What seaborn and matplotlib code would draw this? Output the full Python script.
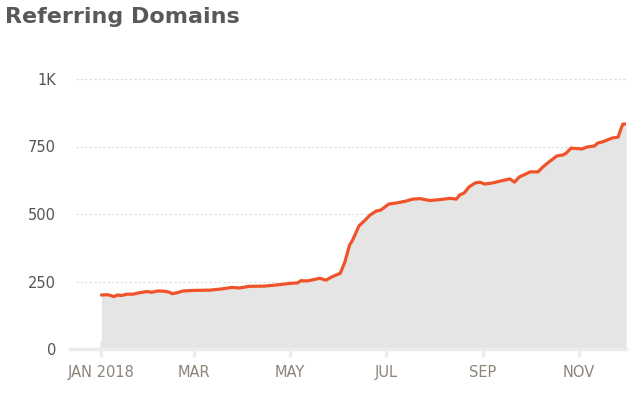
import numpy as np
import pandas as pd
import matplotlib
matplotlib.use("Agg")
import matplotlib.pyplot as plt
import seaborn as sns

# --- Data ---
DATES = [
    "2018-01-01", "2018-01-05", "2018-01-07", "2018-01-09", "2018-01-11", "2018-01-14",
    "2018-01-17", "2018-01-21", "2018-01-25", "2018-01-30", "2018-02-02", "2018-02-06",
    "2018-02-10", "2018-02-13", "2018-02-15", "2018-02-18", "2018-02-22", "2018-03-01",
    "2018-03-11", "2018-03-18", "2018-03-25", "2018-03-30", "2018-04-05", "2018-04-15",
    "2018-04-24", "2018-05-01", "2018-05-06", "2018-05-08", "2018-05-12", "2018-05-17",
    "2018-05-20", "2018-05-24", "2018-05-28", "2018-06-02", "2018-06-05", "2018-06-08",
    "2018-06-10", "2018-06-12", "2018-06-14", "2018-06-18", "2018-06-21", "2018-06-25",
    "2018-06-28", "2018-07-03", "2018-07-08", "2018-07-14", "2018-07-18", "2018-07-23",
    "2018-07-29", "2018-08-04", "2018-08-11", "2018-08-15", "2018-08-17", "2018-08-20",
    "2018-08-23", "2018-08-27", "2018-08-30", "2018-09-02", "2018-09-07", "2018-09-12",
    "2018-09-18", "2018-09-21", "2018-09-24", "2018-10-01", "2018-10-06", "2018-10-09",
    "2018-10-13", "2018-10-18", "2018-10-22", "2018-10-24", "2018-10-27", "2018-11-03",
    "2018-11-06", "2018-11-11", "2018-11-13", "2018-11-16", "2018-11-19", "2018-11-22",
    "2018-11-26", "2018-11-28", "2018-11-29", "2018-12-01",
]
DOMAINS = [
    200, 201, 198, 194, 200, 198,
    203, 203, 208, 213, 210, 215,
    214, 211, 205, 208, 215, 217,
    218, 222, 228, 226, 232, 233,
    238, 243, 245, 253, 252, 258,
    262, 255, 268, 280, 322, 385,
    404, 430, 456, 478, 496, 511,
    515, 537, 541, 548, 555, 557,
    550, 553, 558, 555, 570, 578,
    600, 615, 618, 611, 615, 622,
    630, 618, 637, 656, 656, 674,
    693, 715, 719, 726, 744, 741,
    748, 752, 763, 767, 774, 781,
    785, 819, 833, 833,
]
TICK_DATES = ["2018-01-01", "2018-03-01", "2018-05-01", "2018-07-01", "2018-09-01", "2018-11-01"]
TICK_LABELS = ["JAN 2018", "MAR", "MAY", "JUL", "SEP", "NOV"]
Y_TICKS = [0, 250, 500, 750, 1000]
Y_LABELS = ["0", "250", "500", "750", "1K"]

df = pd.DataFrame({"date": pd.to_datetime(DATES), "domains": DOMAINS})

sns.set_style("white")
plt.rcParams["font.family"] = ["DejaVu Sans"]

fig = plt.figure(figsize=(6.3, 4.2), dpi=100)
ax = fig.add_axes([70 / 630, 1 - 349 / 420, 556 / 630, 270 / 420])

# grey area + orange line
ax.fill_between(df["date"], df["domains"], 0, color="#e5e5e5", linewidth=0, zorder=1)
sns.lineplot(data=df, x="date", y="domains", ax=ax, color="#f0522a", linewidth=2.3, zorder=3)

ax.set_xlim(pd.Timestamp("2017-12-12"), pd.Timestamp("2018-12-01"))
ax.set_ylim(0, 1000)

# dotted gridlines
for v in Y_TICKS[1:]:
    ax.axhline(v, xmin=0.01, color="#dcdcdc", linewidth=0.8, linestyle=(0, (2, 2)), zorder=0, clip_on=False)

for s in ["top", "right", "left"]:
    ax.spines[s].set_visible(False)
ax.spines["bottom"].set_color("#ebebeb")
ax.spines["bottom"].set_linewidth(2.5)
ax.spines["bottom"].set_zorder(2)

ax.set_yticks(Y_TICKS)
ax.set_yticklabels(Y_LABELS)
ax.set_xticks(pd.to_datetime(TICK_DATES))
ax.set_xticklabels(TICK_LABELS)
ax.tick_params(axis="y", left=False, length=0, pad=10, labelsize=10.5, labelcolor="#555555")
ax.tick_params(axis="x", bottom=True, direction="inout", length=11, width=2.2, color="#ececec",
               pad=6, labelsize=10.5, labelcolor="#8c8479")
for t in ax.xaxis.get_ticklines():
    t.set_zorder(5)
ax.set_xlabel("")
ax.set_ylabel("")

fig.text(5 / 630, 1 - 17 / 420, "Referring Domains", fontsize=16, fontweight="heavy",
         color="#58595b", va="center", ha="left")

fig.savefig("out.png", dpi=100)
